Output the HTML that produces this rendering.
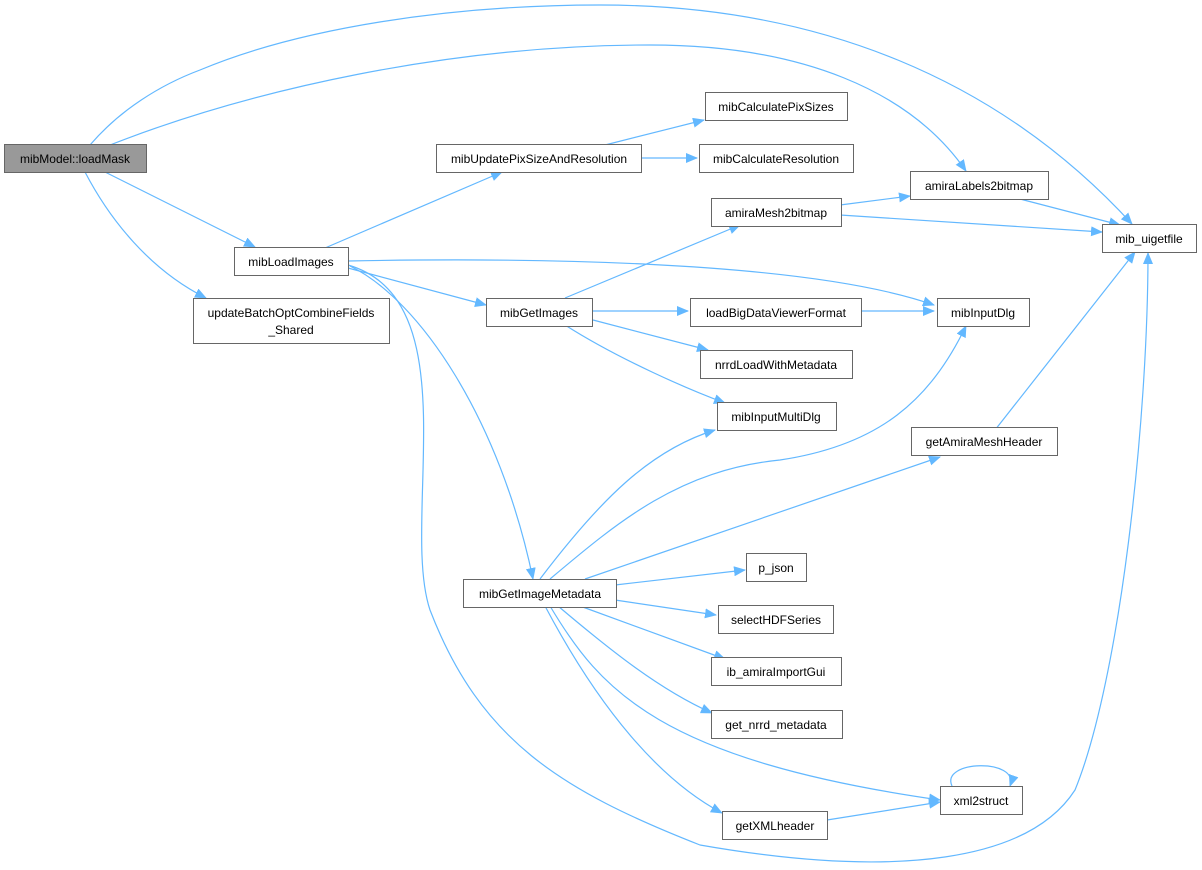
<!DOCTYPE html>
<html><head><meta charset="utf-8"><style>
html,body{margin:0;padding:0;background:#fff;}
svg{display:block;}
text{font-family:"Liberation Sans",sans-serif;font-size:12px;fill:#000;}
</style></head><body>
<svg width="1202" height="870" viewBox="0 0 1202 870" xmlns="http://www.w3.org/2000/svg">
<defs>
<marker id="a" markerWidth="12" markerHeight="10" refX="11" refY="5" orient="auto" markerUnits="userSpaceOnUse">
<path d="M0,0 L12,5 L0,10 Z" fill="#63b8ff"/>
</marker>
</defs>
<g fill="none" stroke="#63b8ff" stroke-width="1.2" marker-end="url(#a)">
<path d="M90,145 C120,110 160,85 200,70 C300,28 450,5 600,5 C820,5 1000,80 1132,224"/>
<path d="M110,145 C250,90 450,45 650,45 C800,45 910,90 966,171"/>
<path d="M105,172 L255,247"/>
<path d="M85,172 C110,220 150,270 206,298"/>
<path d="M325,248 L502,172"/>
<path d="M348,261 C500,258 800,258 934,305"/>
<path d="M348,268 L486,305"/>
<path d="M350,266 C420,300 500,420 533,579"/>
<path d="M348,265 C470,300 400,520 430,610 C480,740 560,790 700,845 C900,880 1030,860 1075,790 C1120,680 1148,420 1148,253"/>
<path d="M605,145 L704,120"/>
<path d="M641,158 L697,158"/>
<path d="M840,205 L910,196"/>
<path d="M840,215 L1102,232"/>
<path d="M1020,199 L1120,225"/>
<path d="M565,298 L740,225"/>
<path d="M593,311 L688,311"/>
<path d="M593,320 L708,350"/>
<path d="M565,325 C620,360 690,390 725,403"/>
<path d="M861,311 L934,311"/>
<path d="M995,430 L1135,252"/>
<path d="M540,579 C600,500 650,450 715,430"/>
<path d="M550,579 C620,520 680,470 780,460 C880,445 930,400 966,326"/>
<path d="M585,579 L940,457"/>
<path d="M615,585 L745,570"/>
<path d="M615,600 L716,615"/>
<path d="M580,606 L725,659"/>
<path d="M558,606 C610,650 660,690 712,713"/>
<path d="M550,606 C600,690 660,760 940,800"/>
<path d="M545,606 C600,710 660,780 722,813"/>
<path d="M827,820 L940,802"/>
<path d="M952,786 C940,760 1020,758 1010,786"/>
</g>
<g stroke="#666" stroke-width="1" fill="#fff">
<rect x="4.5" y="144.5" width="142" height="28" fill="#999"/>
<rect x="234.5" y="247.5" width="114" height="28"/>
<rect x="193.5" y="298.5" width="196" height="45"/>
<rect x="436.5" y="144.5" width="205" height="28"/>
<rect x="705.5" y="92.5" width="142" height="28"/>
<rect x="699.5" y="144.5" width="154" height="28"/>
<rect x="910.5" y="171.5" width="138" height="28"/>
<rect x="711.5" y="198.5" width="130" height="28"/>
<rect x="1102.5" y="224.5" width="94" height="28"/>
<rect x="486.5" y="298.5" width="106" height="28"/>
<rect x="690.5" y="298.5" width="171" height="28"/>
<rect x="937.5" y="298.5" width="92" height="28"/>
<rect x="700.5" y="350.5" width="152" height="28"/>
<rect x="717.5" y="402.5" width="119" height="28"/>
<rect x="911.5" y="427.5" width="146" height="28"/>
<rect x="463.5" y="579.5" width="153" height="28"/>
<rect x="746.5" y="553.5" width="60" height="28"/>
<rect x="718.5" y="605.5" width="115" height="28"/>
<rect x="711.5" y="657.5" width="130" height="28"/>
<rect x="711.5" y="710.5" width="131" height="28"/>
<rect x="940.5" y="786.5" width="82" height="28"/>
<rect x="722.5" y="811.5" width="105" height="28"/>
</g>
<g text-anchor="middle">
<text x="75" y="163">mibModel::loadMask</text>
<text x="291" y="266">mibLoadImages</text>
<text x="291" y="317">updateBatchOptCombineFields</text>
<text x="291" y="334">_Shared</text>
<text x="539" y="163">mibUpdatePixSizeAndResolution</text>
<text x="776" y="111">mibCalculatePixSizes</text>
<text x="776" y="163">mibCalculateResolution</text>
<text x="979" y="190">amiraLabels2bitmap</text>
<text x="776" y="217">amiraMesh2bitmap</text>
<text x="1149" y="243">mib_uigetfile</text>
<text x="539" y="317">mibGetImages</text>
<text x="776" y="317">loadBigDataViewerFormat</text>
<text x="983" y="317">mibInputDlg</text>
<text x="776" y="369">nrrdLoadWithMetadata</text>
<text x="776" y="421">mibInputMultiDlg</text>
<text x="984" y="446">getAmiraMeshHeader</text>
<text x="540" y="598">mibGetImageMetadata</text>
<text x="776" y="572">p_json</text>
<text x="776" y="624">selectHDFSeries</text>
<text x="776" y="676">ib_amiraImportGui</text>
<text x="776" y="729">get_nrrd_metadata</text>
<text x="981" y="805">xml2struct</text>
<text x="775" y="830">getXMLheader</text>
</g>
</svg>
</body></html>
